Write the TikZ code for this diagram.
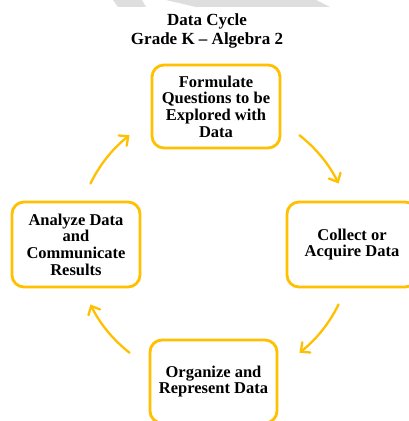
\documentclass[tikz,border=0pt]{standalone}
\usepackage{fontspec}
\setmainfont{Liberation Serif}
\usetikzlibrary{arrows.meta}
\definecolor{gold}{HTML}{FFC000}
\definecolor{wm}{HTML}{DEDEDE}
\tikzset{
  stagebox/.style={draw=gold, line width=2.8pt, rounded corners=12pt, fill=white,
    align=center, inner sep=2pt, font=\fontsize{16.5}{16.6}\selectfont\bfseries},
  titletext/.style={inner sep=0pt, font=\fontsize{17}{19}\selectfont\bfseries},
  cyclearrow/.style={draw=gold, line width=2.3pt, line cap=round,
    -{Straight Barb[length=7pt,width=13pt,line cap=round]}}
}
\begin{document}
\begin{tikzpicture}[x=1pt,y=1pt]
\clip (0,0) rectangle (409,421);
\fill[white] (0,0) rectangle (409,421);
% watermark slivers
\fill[wm] (113,421) -- (142,421) -- (146,414) -- (118,414) -- cycle;
\fill[wm] (166,421) -- (316,421) -- (330,414) -- (196,414) -- cycle;
% title
\node[titletext, anchor=base] (title1) at (207,395) {Data Cycle};
\node[titletext, anchor=base] (title2) at (207,376) {Grade K – Algebra 2};
% boxes
\node[stagebox, minimum width=128pt, minimum height=83pt] (formulate) at (216,314.5)
  {Formulate\\Questions to be\\Explored with\\Data};
\node[stagebox, minimum width=130pt, minimum height=85pt] (collect) at (352,176.5)
  {Collect or\\Acquire Data};
\node[stagebox, minimum width=127pt, minimum height=83pt] (organize) at (213.5,39.5)
  {Organize and\\Represent Data};
\node[stagebox, minimum width=128pt, minimum height=85pt] (analyze) at (76,176.5)
  {Analyze Data\\and\\Communicate\\Results};
% cycle arrows
\coordinate (hub) at (214.5,177);
\draw[cyclearrow] ([shift={(52:138)}]hub) arc[start angle=52, end angle=26, radius=138];
\draw[cyclearrow] ([shift={(-26:138)}]hub) arc[start angle=-26, end angle=-52, radius=138];
\draw[cyclearrow] ([shift={(-128:138)}]hub) arc[start angle=-128, end angle=-154, radius=138];
\draw[cyclearrow] ([shift={(154:138)}]hub) arc[start angle=154, end angle=128, radius=138];
\end{tikzpicture}
\end{document}
